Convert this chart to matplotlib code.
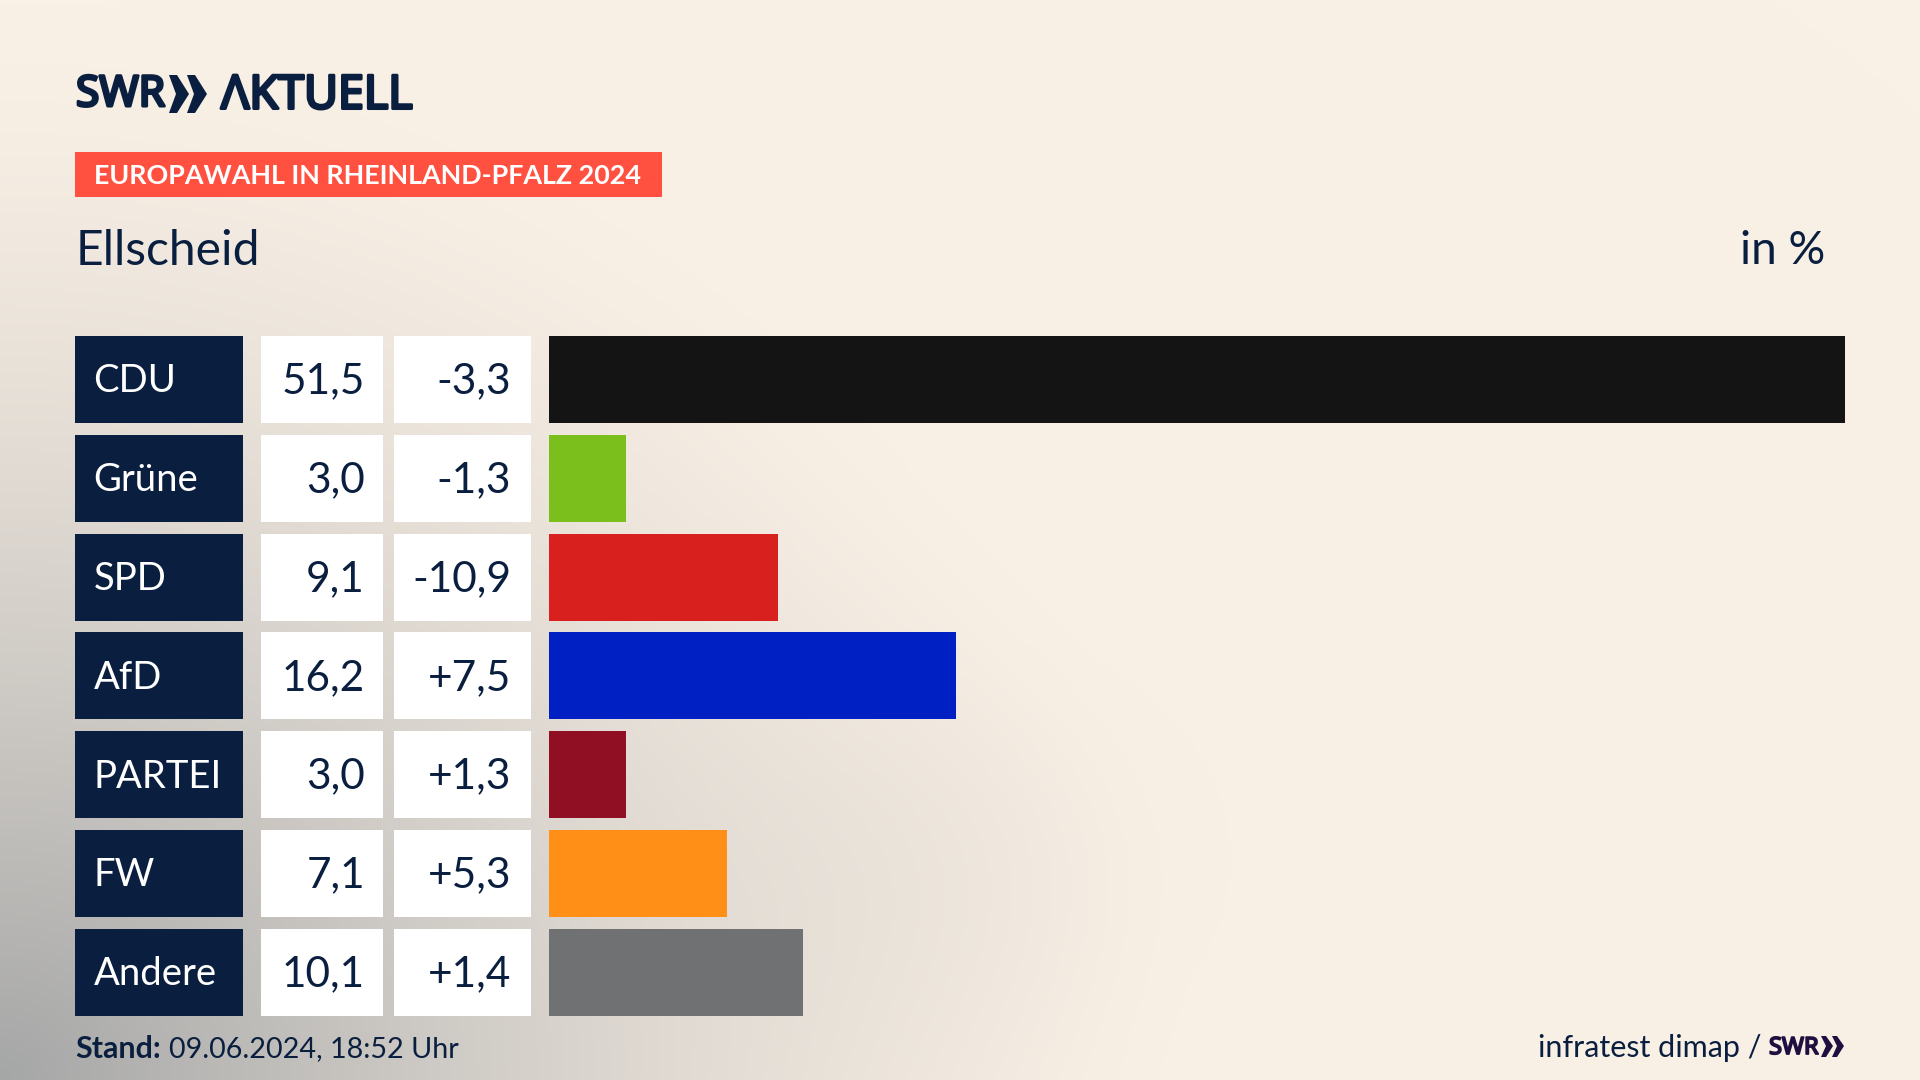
import numpy as np
import matplotlib
matplotlib.use("Agg")
import matplotlib.pyplot as plt
import matplotlib.patheffects as pe
from matplotlib.patches import Polygon, Rectangle

plt.rcParams["font.family"] = ["Lato", "Noto Sans", "DejaVu Sans"]

parties = ["CDU", "Grüne", "SPD", "AfD", "PARTEI", "FW", "Andere"]
shares = [51.5, 3.08, 9.1, 16.2, 3.08, 7.1, 10.1]
share_labels = ["51,5", "3,0", "9,1", "16,2", "3,0", "7,1", "10,1"]
changes = ["-3,3", "-1,3", "-10,9", "+7,5", "+1,3", "+5,3", "+1,4"]
colors = ["#141414", "#7ABF1B", "#D8201E", "#0020C4", "#900F22", "#FF8F17", "#707173"]

NAVY = "#0A1F3F"
LOGO_FONT = ["Noto Sans", "DejaVu Sans"]
W, H = 1920, 1080
ROW_TOP = 336
ROW_PITCH = 98.8
ROW_H = 87
BAR_LEFT, BAR_RIGHT = 548.6, 1845

fig = plt.figure(figsize=(19.2, 10.8), dpi=100)

# page background and everything placed by pixel
bg = fig.add_axes([0, 0, 1, 1])
bg.axis("off")

xx, yy = np.meshgrid(np.linspace(0, W, 480), np.linspace(0, H, 270))
t = np.clip(1 - np.sqrt((xx / 1200) ** 2 + ((H - yy) / 1080) ** 2), 0, 1) ** 1.45
# faint patch right of the lower bars
t = t + 0.07 * np.exp(-(((xx - 950) / 230) ** 2 + ((yy - 860) / 190) ** 2))
cream = np.array([250, 241, 230]) / 255
grey = np.array([174, 174, 173]) / 255
img = cream + (grey - cream) * t[..., None] * 1.12
bg.imshow(np.clip(img, 0, 1), extent=[0, W, H, 0], aspect="auto", zorder=0)
bg.set_xlim(0, W)
bg.set_ylim(H, 0)

# logo
heavy = [pe.withStroke(linewidth=2.2, foreground=NAVY)]
bg.text(76, 95, "SWR", fontsize=30.5, color=NAVY, va="center",
        family=LOGO_FONT, path_effects=heavy)
for x0 in (169, 187):
    bg.add_patch(Polygon([(x0, 75), (x0 + 8, 75), (x0 + 20, 94), (x0 + 8, 113), (x0, 113), (x0 + 7, 94)],
                         facecolor=NAVY, linewidth=0, zorder=3))
bg.text(221, 96, "ΛKTUELL", fontsize=33.5, color=NAVY, va="center",
        family=LOGO_FONT, path_effects=heavy)

# banner
bg.add_patch(Rectangle((75, 152), 587, 45, facecolor="#FF5040", linewidth=0, zorder=2))
bg.text(94, 175.5, "EUROPAWAHL IN RHEINLAND-PFALZ 2024", fontsize=19.4, fontweight="bold",
        color="white", va="center", zorder=3)

bg.text(76, 251, "Ellscheid", fontsize=34.6, color=NAVY, va="center")
bg.text(1825, 251, "in %", fontsize=33, color=NAVY, va="center", ha="right")

# table cells
for i, (party, share, change) in enumerate(zip(parties, share_labels, changes)):
    y = ROW_TOP + i * ROW_PITCH
    mid = y + ROW_H / 2
    bg.add_patch(Rectangle((75, y), 167.5, ROW_H, facecolor=NAVY, linewidth=0, zorder=2))
    bg.add_patch(Rectangle((261, y), 122, ROW_H, facecolor="white", linewidth=0, zorder=2))
    bg.add_patch(Rectangle((394, y), 137, ROW_H, facecolor="white", linewidth=0, zorder=2))
    bg.text(93.5, mid + 2, party, fontsize=27.5, color="white", va="center", zorder=3)
    bg.text(365, mid + 2, share, fontsize=30.5, color=NAVY, va="center", ha="right", zorder=3)
    bg.text(511, mid + 2, change, fontsize=30.5, color=NAVY, va="center", ha="right", zorder=3)

# bars
gap = ROW_PITCH - ROW_H
ax_top = ROW_TOP - gap / 2
ax_h = ROW_PITCH * len(parties)
ax = fig.add_axes([BAR_LEFT / W, 1 - (ax_top + ax_h) / H, (BAR_RIGHT - BAR_LEFT) / W, ax_h / H])
ax.patch.set_alpha(0)
ax.barh(range(len(parties)), shares, height=ROW_H / ROW_PITCH, color=colors)
ax.set_xlim(0, max(shares))
ax.set_ylim(len(parties) - 0.5, -0.5)
ax.axis("off")

# footer
bg.text(75, 1049, "Stand:", fontsize=22, fontweight="bold", color=NAVY, va="center")
bg.text(169, 1049, "09.06.2024, 18:52 Uhr", fontsize=20.7, color=NAVY, va="center")
bg.text(1761, 1048, "infratest dimap /", fontsize=22, color=NAVY, va="center", ha="right")
bg.text(1769, 1048, "SWR", fontsize=17, color="#1E0F40", va="center", ha="left",
        family=LOGO_FONT, path_effects=[pe.withStroke(linewidth=1.3, foreground="#1E0F40")])
for x0 in (1821, 1832):
    bg.add_patch(Polygon([(x0, 1036), (x0 + 5, 1036), (x0 + 12, 1046), (x0 + 5, 1057), (x0, 1057), (x0 + 5, 1046)],
                         facecolor="#1E0F40", linewidth=0, zorder=3))

fig.savefig("out.png", dpi=100)
